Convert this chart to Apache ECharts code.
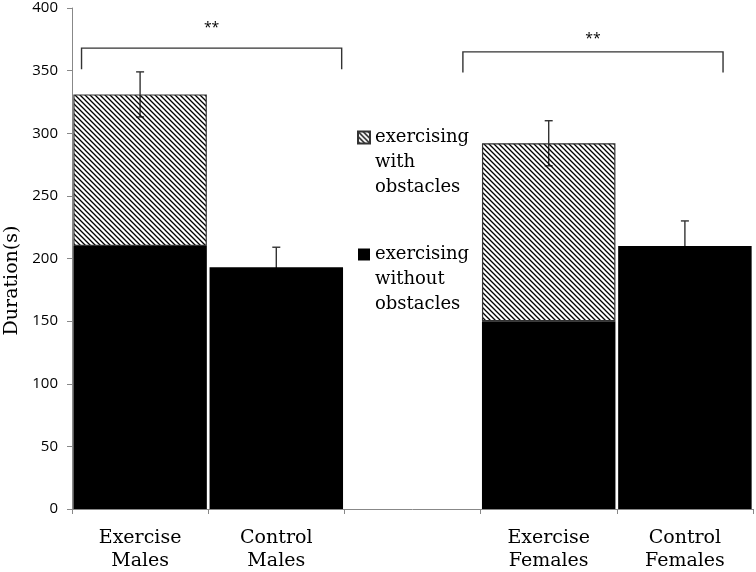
<!DOCTYPE html>
<html><head><meta charset="utf-8">
<script src="https://cdn.jsdelivr.net/npm/echarts@6/dist/echarts.min.js"></script>
<style>html,body{margin:0;padding:0;background:#fff}#c{width:756px;height:572px}</style>
</head><body><div id="c"></div>
<script>
// ---- data ----
const categories = ['Exercise\nMales', 'Control\nMales', '', 'Exercise\nFemales', 'Control\nFemales'];
const withoutObstacles = [210, 193, '-', 150, 210];
const withObstacles = [121, '-', '-', 142, '-'];
const totals = [331, 193, null, 292, 210];
const errors = [18, 16, null, 18, 20];
const yMin = 0, yMax = 400, yInterval = 50;
// significance brackets: category index + offset (fraction of band), values in y units
const brackets = [
  { from: 0, fromOff: -0.43, to: 1, toOff: 0.48, top: 368, bottom: 351, label: '**', labelY: 384 },
  { from: 2, fromOff: 0.37, to: 4, toOff: 0.28, top: 365, bottom: 348.5, label: '**', labelY: 375 }
];
const seriesNames = ['exercising with obstacles', 'exercising without obstacles'];
const legendText = {
  'exercising with obstacles': '\n\nexercising\nwith\nobstacles',
  'exercising without obstacles': '\n\nexercising\nwithout\nobstacles'
};

// hatch pattern (transparent gaps)
const pc = document.createElement('canvas');
pc.width = 5; pc.height = 5;
const g = pc.getContext('2d');
g.strokeStyle = '#000'; g.lineWidth = 1.3;
g.beginPath();
g.moveTo(-1, -1); g.lineTo(6, 6);
g.moveTo(-1, 4); g.lineTo(1, 6);
g.moveTo(4, -1); g.lineTo(6, 1);
g.stroke();

const chart = echarts.init(document.getElementById('c'), null, { renderer: 'canvas' });
const serif = 'DejaVu Serif';
const option = {
  animation: false,
  backgroundColor: '#fff',
  grid: { left: 72, right: 3, top: 8, bottom: 63, containLabel: false, outerBoundsMode: 'none' },
  legend: {
    orient: 'vertical',
    left: 352,
    top: 70,
    icon: 'rect',
    itemWidth: 12,
    itemHeight: 12,
    itemGap: -8,
    data: seriesNames,
    formatter: n => legendText[n],
    textStyle: { fontFamily: serif, fontSize: 18, lineHeight: 25, color: '#000' },
    selectedMode: false
  },
  xAxis: {
    type: 'category',
    data: categories,
    axisLine: { lineStyle: { color: '#888', width: 1 } },
    axisTick: { show: true, length: 5, lineStyle: { color: '#888' } },
    axisLabel: { fontFamily: serif, fontSize: 19, lineHeight: 23, color: '#000', margin: 18, interval: 0 }
  },
  yAxis: {
    type: 'value',
    min: yMin, max: yMax, interval: yInterval,
    name: 'Duration(s)',
    nameLocation: 'middle',
    nameGap: 47,
    nameTextStyle: { fontFamily: serif, fontSize: 19, color: '#000', padding: [0, 44, 0, 0] },
    axisLine: { show: true, lineStyle: { color: '#888' } },
    axisTick: { show: true, length: 5, lineStyle: { color: '#888' } },
    splitLine: { show: false },
    axisLabel: { fontFamily: 'Open Sans', fontSize: 15, color: '#000', margin: 14 }
  },
  series: [
    {
      name: seriesNames[1], type: 'bar', stack: 's', data: withoutObstacles,
      barCategoryGap: '2%', z: 3,
      itemStyle: { color: '#000' }
    },
    {
      name: seriesNames[0], type: 'bar', stack: 's', data: withObstacles,
      barCategoryGap: '2%', z: 3,
      itemStyle: { color: { image: pc, repeat: 'repeat' }, borderColor: '#333', borderWidth: 1.2 }
    },
    {
      type: 'custom', name: 'err', z: 1,
      data: totals.map((t, i) => t == null ? null : [i, t, errors[i]]).filter(d => d),
      renderItem: (params, api) => {
        const i = api.value(0), t = api.value(1), e = api.value(2);
        const top = api.coord([i, t + e]);
        const bot = api.coord([i, t - e]);
        const cap = 4;
        const st = { stroke: '#333', lineWidth: 1.4 };
        return { type: 'group', children: [
          { type: 'line', shape: { x1: top[0], y1: top[1], x2: bot[0], y2: bot[1] }, style: st },
          { type: 'line', shape: { x1: top[0] - cap, y1: top[1], x2: top[0] + cap, y2: top[1] }, style: st },
          { type: 'line', shape: { x1: bot[0] - cap, y1: bot[1], x2: bot[0] + cap, y2: bot[1] }, style: st }
        ]};
      },
      tooltip: { show: false }
    },
    {
      type: 'custom', name: 'sig', z: 6,
      data: brackets.map((b, k) => [k]),
      renderItem: (params, api) => {
        const b = brackets[params.dataIndex];
        const bw = api.size([1, 0])[0];
        const a = api.coord([b.from, b.top]);
        const c = api.coord([b.to, b.top]);
        const x1 = a[0] + b.fromOff * bw, x2 = c[0] + b.toOff * bw;
        const yT = a[1], yB = api.coord([b.from, b.bottom])[1];
        const yL = api.coord([b.from, b.labelY])[1];
        const st = { stroke: '#333', lineWidth: 1.4, fill: null };
        return { type: 'group', children: [
          { type: 'polyline', shape: { points: [[x1, yB], [x1, yT], [x2, yT], [x2, yB]] }, style: st },
          { type: 'text', style: { text: b.label, x: (x1 + x2) / 2, y: yL, align: 'center', verticalAlign: 'middle',
            font: '14px "Open Sans"', fill: '#000' } }
        ]};
      }
    }
  ]
};
chart.setOption(option);
</script></body></html>
